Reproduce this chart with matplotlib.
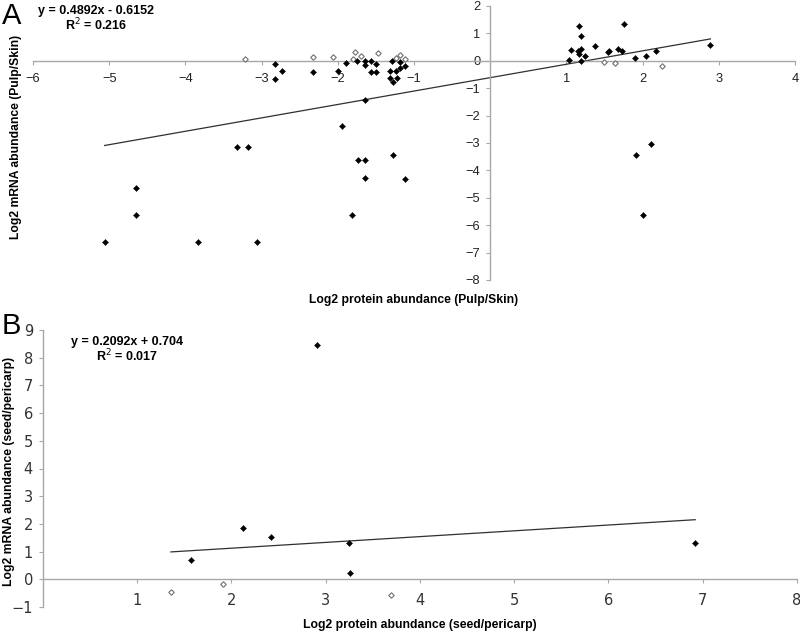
import matplotlib
matplotlib.use("Agg")
import matplotlib.pyplot as plt
import numpy as np

# ---------------- Panel A data (Pulp/Skin) ----------------
a_solid_x = [-5.06, -4.65, -4.65, -3.84, -3.32, -3.18, -3.06, -2.83, -2.83, -2.73,
             -2.32, -2.00, -1.94, -1.89, -1.82, -1.75, -1.74, -1.64, -1.64, -1.57,
             -1.50, -1.57, -1.50, -1.64, -1.64, -1.64, -1.28, -1.12,
             -1.29, -1.32, -1.24, -1.32, -1.22, -1.28, -1.18, -1.18, -1.12,
             1.03, 1.06, 1.16, 1.19, 1.15, 1.19, 1.16, 1.19, 1.25, 1.37,
             1.54, 1.56, 1.68, 1.73, 1.75, 1.90, 2.05, 2.17, 2.89, 1.91, 2.11, 2.00]
a_solid_y = [-6.63, -4.63, -5.63, -6.63, -3.16, -3.16, -6.63, -0.13, -0.67, -0.38,
             -0.42, -0.38, -2.37, -0.07, -5.63, 0.00, -3.62, 0.00, -0.16, 0.00,
             -0.13, -0.42, -0.42, -1.43, -3.62, -4.29, -3.45, -4.32,
             0.00, -0.38, -0.38, -0.61, -0.61, -0.79, -0.06, -0.28, -0.19,
             0.03, 0.39, 1.28, 0.91, 0.37, 0.42, 0.24, 0.00, 0.17, 0.54,
             0.31, 0.35, 0.43, 0.35, 1.34, 0.12, 0.17, 0.37, 0.57, -3.45, -3.04, -5.62]
a_hollow_x = [-3.22, -2.32, -2.06, -1.78, -1.69, -1.47, -1.80, -1.23, -1.19, -1.12,
              1.49, 1.64, 2.26]
a_hollow_y = [0.06, 0.15, 0.15, 0.33, 0.18, 0.27, 0.05, 0.12, 0.21, 0.05,
              -0.06, -0.08, -0.18]
a_slope, a_intercept = 0.4892, -0.6152
a_xticks = [-6, -5, -4, -3, -2, -1, 1, 2, 3, 4]
a_yticks = [2, 1, 0, -1, -2, -3, -4, -5, -6, -7, -8]

# ---------------- Panel B data (seed/pericarp) ----------------
b_solid_x = [2.91, 2.12, 2.42, 1.57, 3.25, 3.26, 6.92]
b_solid_y = [8.47, 1.86, 1.52, 0.71, 1.32, 0.21, 1.32]
b_hollow_x = [1.36, 1.91, 3.69]
b_hollow_y = [-0.46, -0.16, -0.55]
b_slope, b_intercept = 0.2092, 0.704
b_xticks = [1, 2, 3, 4, 5, 6, 7, 8]
b_yticks = [-1, 0, 1, 2, 3, 4, 5, 6, 7, 8, 9]

W, H = 800, 634
fig = plt.figure(figsize=(W / 100, H / 100), dpi=100)
ARIAL = "Liberation Sans"
AXC = "#a8a8a8"


def px_axes(x0, x1, y0, y1):
    return fig.add_axes([x0 / W, 1 - y1 / H, (x1 - x0) / W, (y1 - y0) / H])


def style(ax, tickfont, tsize, tcolor):
    for s in ("top", "right"):
        ax.spines[s].set_visible(False)
    ax.spines["left"].set_position(("data", 0))
    ax.spines["bottom"].set_position(("data", 0))
    for s in ("left", "bottom"):
        ax.spines[s].set_color(AXC)
        ax.spines[s].set_linewidth(1.0)
    ax.tick_params(axis="both", direction="out", length=3, width=0.8, color=AXC,
                   labelsize=tsize, labelcolor=tcolor)
    ax.tick_params(axis="x", pad=6)
    ax.tick_params(axis="y", pad=4)
    for lab in ax.get_xticklabels() + ax.get_yticklabels():
        lab.set_fontfamily(tickfont)
    ax.patch.set_alpha(0)


# ---------------- Panel A ----------------
axA = px_axes(33, 795, 6, 280)
axA.set_xlim(-6, 4)
axA.set_ylim(-8, 2)
axA.set_xticks(a_xticks)
axA.set_yticks(a_yticks)
xa = np.array([min(a_solid_x + a_hollow_x), max(a_solid_x + a_hollow_x)])
axA.plot(xa, a_slope * xa + a_intercept, color="#303030", lw=0.9, zorder=2)
axA.plot(a_hollow_x, a_hollow_y, ls="none", marker="D", ms=2.8, mfc="white",
         mec="#707070", mew=0.8, zorder=3)
axA.plot(a_solid_x, a_solid_y, ls="none", marker="D", ms=3.1, mfc="black",
         mec="black", mew=0.3, zorder=4)
style(axA, ARIAL, 9.3, "#222222")

fig.text(2 / W, 1 - 16 / H, "A", fontsize=21, fontfamily=ARIAL, va="center", ha="left")
fig.text(96 / W, 1 - 11 / H, "y = 0.4892x - 0.6152", fontsize=9, fontweight="bold",
         fontfamily=ARIAL, ha="center", va="center")
fig.text(96 / W, 1 - 25 / H, "R$^{2}$ = 0.216", fontsize=9, fontweight="bold",
         fontfamily=ARIAL, ha="center", va="center")
fig.text(414 / W, 1 - 300 / H, "Log2 protein abundance (Pulp/Skin)", fontsize=8.7,
         fontweight="bold", fontfamily=ARIAL, ha="center", va="center")
fig.text(16 / W, 1 - 137 / H, "Log2 mRNA abundance (Pulp/Skin)", fontsize=8.7,
         fontweight="bold", fontfamily=ARIAL, ha="center", va="center", rotation=90)

# ---------------- Panel B ----------------
axB = px_axes(42.7, 797, 330, 607)
axB.set_xlim(0, 8)
axB.set_ylim(-1, 9)
axB.set_xticks(b_xticks)
axB.set_yticks(b_yticks)
xb = np.array([min(b_solid_x + b_hollow_x), max(b_solid_x + b_hollow_x)])
axB.plot(xb, b_slope * xb + b_intercept, color="#303030", lw=0.9, zorder=2)
axB.plot(b_hollow_x, b_hollow_y, ls="none", marker="D", ms=2.8, mfc="white",
         mec="#707070", mew=0.8, zorder=3)
axB.plot(b_solid_x, b_solid_y, ls="none", marker="D", ms=3.1, mfc="black",
         mec="black", mew=0.3, zorder=4)
style(axB, "DejaVu Sans", 10.5, "#333333")
axB.tick_params(axis="x", pad=7)

fig.text(2 / W, 1 - 326 / H, "B", fontsize=21, fontfamily=ARIAL, va="center", ha="left")
fig.text(127 / W, 1 - 342 / H, "y = 0.2092x + 0.704", fontsize=9, fontweight="bold",
         fontfamily=ARIAL, ha="center", va="center")
fig.text(127 / W, 1 - 356 / H, "R$^{2}$ = 0.017", fontsize=9, fontweight="bold",
         fontfamily=ARIAL, ha="center", va="center")
fig.text(420 / W, 1 - 625 / H, "Log2 protein abundance (seed/pericarp)", fontsize=8.8,
         fontweight="bold", fontfamily=ARIAL, ha="center", va="center")
fig.text(9 / W, 1 - 471 / H, "Log2 mRNA abundance (seed/pericarp)", fontsize=8.8,
         fontweight="bold", fontfamily=ARIAL, ha="center", va="center", rotation=90)

fig.savefig("out.png", dpi=100)
